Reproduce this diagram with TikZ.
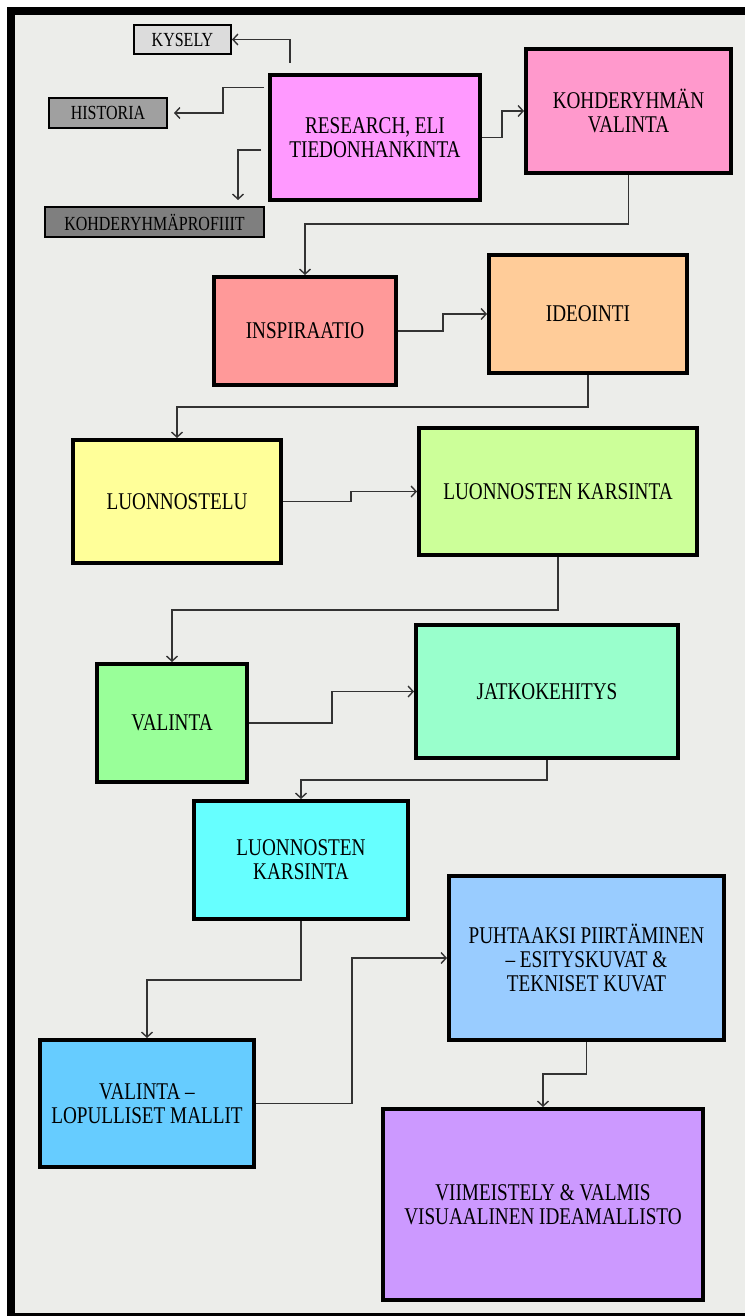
\documentclass[tikz,border=0pt]{standalone}
\usepackage{fontspec}
\setmainfont[FakeStretch=0.8]{Liberation Serif}
\usepackage{xcolor}
\usepackage{tikz}
\usetikzlibrary{calc, arrows.meta, positioning}

\definecolor{pagebg}{HTML}{ECEDEA}
\definecolor{kyselyfill}{HTML}{DCDCDC}
\definecolor{historiafill}{HTML}{A0A0A0}
\definecolor{profiilifill}{HTML}{7F7F7F}
\definecolor{researchfill}{HTML}{FF99FF}
\definecolor{kohdefill}{HTML}{FF99CC}
\definecolor{inspfill}{HTML}{FF9999}
\definecolor{ideofill}{HTML}{FFCC99}
\definecolor{luonfill}{HTML}{FFFF99}
\definecolor{karsafill}{HTML}{CCFF99}
\definecolor{valfill}{HTML}{99FF99}
\definecolor{jatkofill}{HTML}{99FFCC}
\definecolor{karsbfill}{HTML}{66FFFF}
\definecolor{puhtfill}{HTML}{99CCFF}
\definecolor{lopfill}{HTML}{66CCFF}
\definecolor{viimfill}{HTML}{CC99FF}

\begin{document}
\begin{tikzpicture}[x=1pt, y=-1pt, >={Straight Barb[length=5pt,width=11pt]},
    stage/.style={draw=black, line width=4pt, align=center, inner sep=0pt,
        font=\fontsize{24}{24}\selectfont},
    side/.style={draw=black, line width=2pt, align=center, inner sep=0pt,
        font=\fontsize{20}{20}\selectfont},
    link/.style={->, line width=1.4pt, draw=black!80}]

    % 1. Khung nền
    \useasboundingbox (0,0) rectangle (745,1316);
    \fill[white] (0,0) rectangle (745,1316);
    \fill[pagebg] (11,11) rectangle (745,1314);
    \draw[line width=8pt] (11,1316) -- (11,11) -- (745,11);
    \draw[line width=3pt] (7,1314.5) -- (745,1314.5);

    % 2. Các bước chính
    \node[stage, fill=researchfill, minimum width=210, minimum height=125] (research) at (375,137.5) {RESEARCH, ELI\\TIEDONHANKINTA};
    \node[stage, fill=kohdefill, minimum width=205, minimum height=124] (kohde) at (628.5,111) {KOHDERYHMÄN\\VALINTA};
    \node[stage, fill=inspfill, minimum width=182, minimum height=108] (insp) at (305,331) {INSPIRAATIO};
    \node[stage, fill=ideofill, minimum width=198, minimum height=118] (ideo) at (588,314) {IDEOINTI};
    \node[stage, fill=luonfill, minimum width=208, minimum height=123] (luon) at (177,501.5) {LUONNOSTELU};
    \node[stage, fill=karsafill, minimum width=278, minimum height=127] (karsa) at (558,491.5) {LUONNOSTEN KARSINTA};
    \node[stage, fill=valfill, minimum width=150, minimum height=118] (val) at (172,723) {VALINTA};
    \node[stage, fill=jatkofill, minimum width=262, minimum height=133] (jatko) at (547,691.5) {JATKOKEHITYS};
    \node[stage, fill=karsbfill, minimum width=214, minimum height=118] (karsb) at (301,860) {LUONNOSTEN\\KARSINTA};
    \node[stage, fill=puhtfill, minimum width=275, minimum height=164] (puht) at (586.5,958) {PUHTAAKSI PIIRTÄMINEN\\– ESITYSKUVAT \&\\TEKNISET KUVAT};
    \node[stage, fill=lopfill, minimum width=214, minimum height=127] (lop) at (147,1103.5) {VALINTA –\\LOPULLISET MALLIT};
    \node[stage, fill=viimfill, minimum width=320, minimum height=191] (viim) at (543,1204.5) {VIIMEISTELY \& VALMIS\\VISUAALINEN IDEAMALLISTO};

    % 3. Các nhánh của research
    \node[side, fill=kyselyfill, minimum width=97, minimum height=29] (kysely) at (182.5,39.5) {KYSELY};
    \node[side, fill=historiafill, minimum width=118, minimum height=30] (historia) at (108,113) {HISTORIA};
    \node[side, fill=profiilifill, minimum width=219, minimum height=30] (profiili) at (154.5,222) {KOHDERYHMÄPROFIIIT};

    % 4. Mũi tên nối
    \draw[link, shorten <=10pt] ([xshift=22pt]research.north west) |- (kysely);
    \draw[link, shorten <=4pt, shorten >=6pt] ([yshift=50pt]research.west) -- ++(-45,0) |- (historia);
    \draw[link, shorten <=7pt, shorten >=6pt] ([yshift=-12.5pt]research.west) -| ([xshift=-27pt]profiili.north east);
    \draw[link] (research.east) -- ++(20,0) |- (kohde);
    \draw[link] (kohde.south) -- ++(0,49) -| (insp.north);
    \draw[link] (insp.east) -- ++(45,0) |- (ideo);
    \draw[link] (ideo.south) -- ++(0,32) -| (luon.north);
    \draw[link] (luon.east) -- ++(68,0) |- (karsa);
    \draw[link] (karsa.south) -- ++(0,53) -| (val.north);
    \draw[link] (val.east) -- ++(83,0) |- (jatko);
    \draw[link] (jatko.south) -- ++(0,20) -| (karsb.north);
    \draw[link] (karsb.south) -- ++(0,59) -| (lop.north);
    \draw[link] (lop.east) -- ++(96,0) |- (puht);
    \draw[link] (puht.south) -- ++(0,32) -| (viim.north);
\end{tikzpicture}
\end{document}
